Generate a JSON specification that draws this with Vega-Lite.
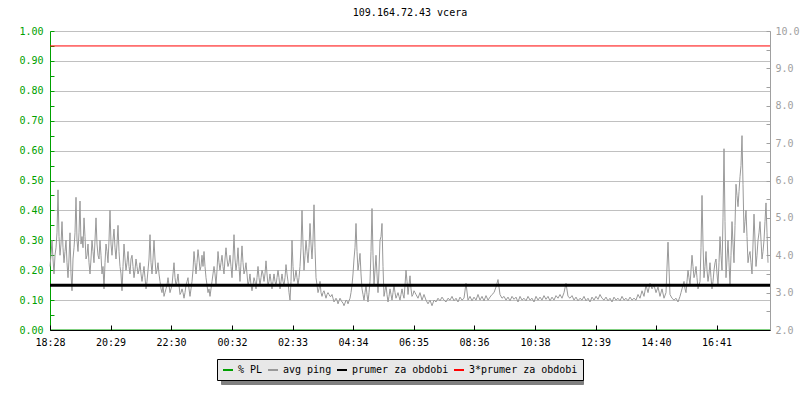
{
  "$schema": "https://vega.github.io/schema/vega-lite/v6.json",
  "width": 720,
  "height": 299,
  "autosize": "none",
  "padding": {"left": 50, "top": 31, "right": 30, "bottom": 70},
  "background": "white",
  "title": {"text": "109.164.72.43 vcera", "font": "DejaVu Sans Mono", "fontSize": 10, "fontWeight": "normal", "color": "#000000", "anchor": "middle", "offset": 8},
  "config": {"view": {"stroke": null}, "font": "DejaVu Sans Mono", "axis": {"labelOverlap": false, "labelFlush": false}},
  "layer": [
    {
      "data": {"values": [{"t": 0, "pl": 0}, {"t": 1440, "pl": 0}]},
      "mark": {"type": "line", "strokeWidth": 1},
      "encoding": {
        "x": {"field": "t", "type": "quantitative", "scale": {"domain": [0, 1440]},
          "axis": {"title": null, "orient": "bottom", "zindex": 1, "values": [0, 121, 242, 364, 485, 606, 727, 848, 970, 1091, 1212, 1333], "labelExpr": "timeFormat(datetime(2020, 0, 1, 18, 28 + datum.value), '%H:%M')", "grid": false, "domainColor": "#000000", "tickColor": "#000000", "tickSize": -5, "labelPadding": 12, "labelFont": "DejaVu Sans Mono", "labelFontSize": 10, "labelColor": "#000000", "labelFlush": false, "labelOverlap": false}},
        "y": {"field": "pl", "type": "quantitative", "scale": {"domain": [0, 1], "nice": false, "zero": false},
          "axis": {"title": null, "orient": "left", "zindex": 0, "values": [0, 0.05, 0.1, 0.15, 0.2, 0.25, 0.3, 0.35, 0.4, 0.45, 0.5, 0.55, 0.6, 0.65, 0.7, 0.75, 0.8, 0.85, 0.9, 0.95, 1], "labelExpr": "round(datum.value * 100) % 10 == 0 ? format(datum.value, '.2f') : ''", "grid": true, "gridColor": "#c0c0c0", "gridOpacity": {"condition": {"test": "round(datum.value * 100) % 10 != 0", "value": 0}, "value": 1}, "domainColor": "#00a000", "tickColor": "#00a000", "tickSize": -4, "labelPadding": 11, "labelFont": "DejaVu Sans Mono", "labelFontSize": 10, "labelColor": "#00a000", "labelFlush": false, "labelOverlap": false}},
        "color": {"datum": "% PL", "type": "nominal",
          "scale": {"domain": ["% PL", "avg ping", "prumer za obdobi", "3*prumer za obdobi"], "range": ["#00a000", "#999999", "#000000", "#ff0000"]},
          "legend": {"orient": "none", "legendX": 167, "legendY": 328, "zindex": 2, "direction": "horizontal", "title": null, "symbolType": "stroke", "symbolSize": 100, "symbolStrokeWidth": 2, "labelFont": "DejaVu Sans Mono", "labelFontSize": 10, "labelColor": "#000000", "fillColor": "#e8e8e8", "strokeColor": "#000000", "padding": 5, "columnPadding": 1, "labelOffset": 4, "labelLimit": 300}},
        "opacity": {"datum": "% PL", "type": "ordinal",
          "scale": {"domain": ["avg ping", "% PL", "prumer za obdobi", "3*prumer za obdobi"], "range": [1, 1, 1, 1]},
          "legend": {"orient": "none", "legendX": 171, "legendY": 332, "zindex": 1, "direction": "horizontal", "title": null, "symbolType": "stroke", "symbolSize": 100, "symbolStrokeWidth": 2, "symbolOpacity": 0, "symbolStrokeColor": "#808080", "labelFont": "DejaVu Sans Mono", "labelFontSize": 10, "labelColor": "#808080", "labelOpacity": 0, "labelExpr": "''", "fillColor": "#808080", "strokeColor": "#808080", "padding": 5, "columnPadding": 93, "labelOffset": 4, "labelLimit": 300}}
      }
    },
    {
      "layer": [
        {
          "data": {"values": [
{"t":0,"p":3.7},{"t":2,"p":4.0},{"t":4,"p":4.4},{"t":6,"p":3.9},{"t":8,"p":3.5},{"t":10,"p":4.0},{"t":12,"p":4.2},{"t":14,"p":4.6},{"t":16,"p":5.75},{"t":18,"p":4.5},
{"t":20,"p":4.0},{"t":22,"p":4.3},{"t":24,"p":4.9},{"t":26,"p":4.2},{"t":28,"p":3.8},{"t":30,"p":4.1},{"t":32,"p":4.4},{"t":34,"p":3.8},{"t":36,"p":3.4},{"t":38,"p":3.9},
{"t":40,"p":4.6},{"t":42,"p":3.5},{"t":44,"p":3.05},{"t":46,"p":3.9},{"t":48,"p":4.2},{"t":50,"p":4.6},{"t":52,"p":5.55},{"t":54,"p":4.4},{"t":56,"p":4.1},{"t":58,"p":4.6},
{"t":60,"p":5.45},{"t":62,"p":4.3},{"t":64,"p":4.5},{"t":66,"p":4.2},{"t":68,"p":5.0},{"t":70,"p":4.5},{"t":72,"p":3.9},{"t":74,"p":4.0},{"t":76,"p":4.3},{"t":78,"p":3.8},
{"t":80,"p":3.5},{"t":82,"p":3.9},{"t":84,"p":4.4},{"t":86,"p":4.1},{"t":88,"p":3.8},{"t":90,"p":4.4},{"t":92,"p":5.0},{"t":94,"p":4.3},{"t":96,"p":4.0},{"t":98,"p":3.9},
{"t":100,"p":4.4},{"t":102,"p":4.0},{"t":104,"p":3.5},{"t":106,"p":3.7},{"t":108,"p":3.1},{"t":110,"p":3.8},{"t":112,"p":4.3},{"t":114,"p":4.1},{"t":116,"p":3.8},{"t":118,"p":4.4},
{"t":120,"p":5.2},{"t":122,"p":4.3},{"t":124,"p":4.0},{"t":126,"p":4.4},{"t":128,"p":4.7},{"t":130,"p":4.2},{"t":132,"p":3.9},{"t":134,"p":4.3},{"t":136,"p":4.8},{"t":138,"p":4.1},
{"t":140,"p":3.7},{"t":142,"p":3.5},{"t":144,"p":3.05},{"t":146,"p":3.7},{"t":148,"p":4.3},{"t":150,"p":3.9},{"t":152,"p":3.6},{"t":154,"p":3.8},{"t":156,"p":4.1},{"t":158,"p":3.7},
{"t":160,"p":3.5},{"t":162,"p":3.9},{"t":164,"p":4.0},{"t":166,"p":3.7},{"t":168,"p":3.4},{"t":170,"p":3.6},{"t":172,"p":3.9},{"t":174,"p":3.7},{"t":176,"p":3.5},{"t":178,"p":3.6},
{"t":180,"p":3.8},{"t":182,"p":3.5},{"t":184,"p":3.3},{"t":186,"p":3.5},{"t":188,"p":3.7},{"t":190,"p":3.4},{"t":192,"p":3.1},{"t":194,"p":3.3},{"t":196,"p":3.6},{"t":198,"p":3.9},
{"t":200,"p":4.55},{"t":202,"p":3.8},{"t":204,"p":3.5},{"t":206,"p":3.9},{"t":208,"p":4.4},{"t":210,"p":3.9},{"t":212,"p":3.5},{"t":214,"p":3.6},{"t":216,"p":3.8},{"t":218,"p":3.5},
{"t":220,"p":3.3},{"t":222,"p":3.1},{"t":224,"p":3.0},{"t":226,"p":3.2},{"t":228,"p":2.9},{"t":230,"p":3.0},{"t":232,"p":3.1},{"t":234,"p":3.2},{"t":236,"p":3.4},{"t":238,"p":3.2},
{"t":240,"p":3.0},{"t":242,"p":3.1},{"t":244,"p":3.2},{"t":246,"p":3.5},{"t":248,"p":3.8},{"t":250,"p":3.4},{"t":252,"p":3.2},{"t":254,"p":3.3},{"t":256,"p":3.5},{"t":258,"p":3.2},
{"t":260,"p":2.95},{"t":262,"p":3.0},{"t":264,"p":3.1},{"t":266,"p":3.0},{"t":268,"p":2.85},{"t":270,"p":3.0},{"t":272,"p":3.2},{"t":274,"p":3.3},{"t":276,"p":3.4},{"t":278,"p":3.1},
{"t":280,"p":2.9},{"t":282,"p":3.1},{"t":284,"p":3.3},{"t":286,"p":3.6},{"t":288,"p":4.1},{"t":290,"p":3.8},{"t":292,"p":3.5},{"t":294,"p":3.8},{"t":296,"p":4.15},{"t":298,"p":3.9},
{"t":300,"p":3.6},{"t":302,"p":3.7},{"t":304,"p":4.0},{"t":306,"p":3.7},{"t":308,"p":4.1},{"t":310,"p":3.7},{"t":312,"p":3.4},{"t":314,"p":3.2},{"t":316,"p":3.0},{"t":318,"p":3.1},
{"t":320,"p":2.9},{"t":322,"p":3.1},{"t":324,"p":3.3},{"t":326,"p":3.5},{"t":328,"p":3.7},{"t":330,"p":3.5},{"t":332,"p":3.2},{"t":334,"p":3.6},{"t":336,"p":4.1},{"t":338,"p":3.8},
{"t":340,"p":3.6},{"t":342,"p":3.8},{"t":344,"p":4.0},{"t":346,"p":3.7},{"t":348,"p":3.5},{"t":350,"p":3.9},{"t":352,"p":4.2},{"t":354,"p":3.9},{"t":356,"p":3.7},{"t":358,"p":3.8},
{"t":360,"p":4.0},{"t":362,"p":3.7},{"t":364,"p":3.4},{"t":366,"p":3.9},{"t":368,"p":4.55},{"t":370,"p":3.9},{"t":372,"p":3.6},{"t":374,"p":3.8},{"t":376,"p":4.2},{"t":378,"p":3.7},
{"t":380,"p":3.3},{"t":382,"p":3.8},{"t":384,"p":4.25},{"t":386,"p":3.8},{"t":388,"p":3.5},{"t":390,"p":3.6},{"t":392,"p":3.8},{"t":394,"p":3.5},{"t":396,"p":3.2},{"t":398,"p":3.3},
{"t":400,"p":3.5},{"t":402,"p":3.2},{"t":404,"p":3.05},{"t":406,"p":3.2},{"t":408,"p":3.4},{"t":410,"p":3.3},{"t":412,"p":3.1},{"t":414,"p":3.4},{"t":416,"p":3.7},{"t":418,"p":3.4},
{"t":420,"p":3.2},{"t":422,"p":3.4},{"t":424,"p":3.6},{"t":426,"p":3.5},{"t":428,"p":3.3},{"t":430,"p":3.5},{"t":432,"p":3.85},{"t":434,"p":3.5},{"t":436,"p":3.2},{"t":438,"p":3.3},
{"t":440,"p":3.5},{"t":442,"p":3.3},{"t":444,"p":3.1},{"t":446,"p":3.3},{"t":448,"p":3.5},{"t":450,"p":3.3},{"t":452,"p":3.2},{"t":454,"p":3.4},{"t":456,"p":3.6},{"t":458,"p":3.4},
{"t":460,"p":3.1},{"t":462,"p":3.3},{"t":464,"p":3.5},{"t":466,"p":3.3},{"t":468,"p":3.2},{"t":470,"p":3.4},{"t":472,"p":3.75},{"t":474,"p":3.5},{"t":476,"p":3.3},{"t":478,"p":3.0},
{"t":480,"p":2.8},{"t":482,"p":3.3},{"t":484,"p":4.4},{"t":486,"p":3.7},{"t":488,"p":3.3},{"t":490,"p":3.4},{"t":492,"p":3.6},{"t":494,"p":3.4},{"t":496,"p":3.2},{"t":498,"p":3.4},
{"t":500,"p":3.7},{"t":502,"p":4.2},{"t":504,"p":5.2},{"t":506,"p":4.3},{"t":508,"p":3.6},{"t":510,"p":4.0},{"t":512,"p":4.4},{"t":514,"p":4.1},{"t":516,"p":3.8},{"t":518,"p":4.2},
{"t":520,"p":4.85},{"t":522,"p":4.3},{"t":524,"p":3.9},{"t":526,"p":4.4},{"t":528,"p":5.35},{"t":530,"p":4.2},{"t":532,"p":3.4},{"t":534,"p":3.2},{"t":536,"p":3.0},{"t":538,"p":3.1},
{"t":540,"p":3.3},{"t":542,"p":3.0},{"t":544,"p":2.9},{"t":546,"p":3.0},{"t":548,"p":3.05},{"t":550,"p":2.95},{"t":552,"p":2.85},{"t":554,"p":2.95},{"t":556,"p":3.0},{"t":558,"p":2.95},
{"t":560,"p":2.9},{"t":562,"p":2.9},{"t":564,"p":2.95},{"t":566,"p":2.85},{"t":568,"p":2.75},{"t":570,"p":2.8},{"t":572,"p":2.85},{"t":574,"p":2.8},{"t":576,"p":2.7},{"t":578,"p":2.78},
{"t":580,"p":2.85},{"t":582,"p":2.8},{"t":584,"p":2.75},{"t":586,"p":2.72},{"t":588,"p":2.65},{"t":590,"p":2.72},{"t":592,"p":2.8},{"t":594,"p":2.78},{"t":596,"p":2.7},{"t":598,"p":2.78},
{"t":600,"p":2.85},{"t":602,"p":3.0},{"t":604,"p":3.2},{"t":606,"p":3.5},{"t":608,"p":3.9},{"t":610,"p":4.2},{"t":612,"p":4.85},{"t":614,"p":4.1},{"t":616,"p":3.6},{"t":618,"p":3.8},
{"t":620,"p":4.05},{"t":622,"p":3.5},{"t":624,"p":3.1},{"t":626,"p":2.95},{"t":628,"p":2.8},{"t":630,"p":3.0},{"t":632,"p":3.2},{"t":634,"p":2.95},{"t":636,"p":2.75},{"t":638,"p":3.0},
{"t":640,"p":3.3},{"t":642,"p":4.1},{"t":644,"p":5.25},{"t":646,"p":4.0},{"t":648,"p":3.2},{"t":650,"p":3.6},{"t":652,"p":4.0},{"t":654,"p":3.5},{"t":656,"p":3.0},{"t":658,"p":3.6},
{"t":660,"p":4.4},{"t":662,"p":4.5},{"t":664,"p":4.85},{"t":666,"p":3.7},{"t":668,"p":2.9},{"t":670,"p":3.05},{"t":672,"p":3.2},{"t":674,"p":2.95},{"t":676,"p":2.75},{"t":678,"p":2.9},
{"t":680,"p":3.1},{"t":682,"p":2.95},{"t":684,"p":2.8},{"t":686,"p":3.0},{"t":688,"p":3.2},{"t":690,"p":3.0},{"t":692,"p":2.85},{"t":694,"p":2.92},{"t":696,"p":3.0},{"t":698,"p":2.9},
{"t":700,"p":2.8},{"t":702,"p":2.95},{"t":704,"p":3.1},{"t":706,"p":2.95},{"t":708,"p":2.85},{"t":710,"p":3.2},{"t":712,"p":3.6},{"t":714,"p":3.3},{"t":716,"p":2.95},{"t":718,"p":3.2},
{"t":720,"p":3.45},{"t":722,"p":3.1},{"t":724,"p":2.9},{"t":726,"p":2.95},{"t":728,"p":3.05},{"t":730,"p":3.0},
{"t":732,"p":2.95},{"t":736,"p":2.85},{"t":740,"p":3.0},{"t":744,"p":2.8},{"t":748,"p":2.95},{"t":752,"p":2.8},{"t":756,"p":2.7},
{"t":760,"p":2.8},{"t":764,"p":2.65},{"t":768,"p":2.8},{"t":772,"p":2.75},{"t":776,"p":2.85},{"t":780,"p":2.78},{"t":784,"p":2.88},{"t":788,"p":2.8},{"t":792,"p":2.75},{"t":796,"p":2.85},
{"t":800,"p":2.8},{"t":804,"p":2.9},{"t":808,"p":2.78},{"t":812,"p":2.85},{"t":816,"p":2.75},{"t":820,"p":2.88},{"t":824,"p":2.8},{"t":828,"p":2.85},{"t":832,"p":3.25},{"t":836,"p":2.8},
{"t":840,"p":2.9},{"t":844,"p":2.78},{"t":848,"p":2.88},{"t":852,"p":2.8},{"t":856,"p":2.95},{"t":860,"p":2.8},{"t":864,"p":2.9},{"t":868,"p":2.78},{"t":872,"p":2.92},{"t":876,"p":2.8},
{"t":880,"p":2.88},{"t":884,"p":2.95},{"t":888,"p":3.0},{"t":892,"p":3.15},{"t":896,"p":3.35},{"t":900,"p":2.95},{"t":904,"p":2.85},{"t":908,"p":2.9},{"t":912,"p":2.8},{"t":916,"p":2.88},
{"t":920,"p":2.78},{"t":924,"p":2.9},{"t":928,"p":2.82},{"t":932,"p":2.88},{"t":936,"p":2.75},{"t":940,"p":2.9},{"t":944,"p":2.8},{"t":948,"p":2.85},{"t":952,"p":2.78},{"t":956,"p":2.9},
{"t":960,"p":2.8},{"t":964,"p":2.85},{"t":968,"p":2.75},{"t":972,"p":2.9},{"t":976,"p":2.8},{"t":980,"p":2.88},{"t":984,"p":2.8},{"t":988,"p":2.92},{"t":992,"p":2.82},{"t":996,"p":2.9},
{"t":1000,"p":2.78},{"t":1004,"p":2.88},{"t":1008,"p":2.8},{"t":1012,"p":2.92},{"t":1016,"p":2.85},{"t":1020,"p":2.95},{"t":1024,"p":2.85},{"t":1028,"p":3.0},{"t":1032,"p":3.25},{"t":1036,"p":2.9},
{"t":1040,"p":2.85},{"t":1044,"p":2.92},{"t":1048,"p":2.8},{"t":1052,"p":2.88},{"t":1056,"p":2.78},{"t":1060,"p":2.85},{"t":1064,"p":2.8},{"t":1068,"p":2.9},{"t":1072,"p":2.78},{"t":1076,"p":2.85},
{"t":1080,"p":2.75},{"t":1084,"p":2.88},{"t":1088,"p":2.8},{"t":1092,"p":2.9},{"t":1096,"p":2.82},{"t":1100,"p":2.95},{"t":1104,"p":2.85},{"t":1108,"p":2.8},{"t":1112,"p":2.88},{"t":1116,"p":2.78},
{"t":1120,"p":2.85},{"t":1124,"p":2.75},{"t":1128,"p":2.88},{"t":1132,"p":2.8},{"t":1136,"p":2.85},{"t":1140,"p":2.78},{"t":1144,"p":2.9},{"t":1148,"p":2.8},{"t":1152,"p":2.85},{"t":1156,"p":2.78},
{"t":1160,"p":2.88},{"t":1164,"p":2.8},{"t":1168,"p":2.85},{"t":1172,"p":2.8},{"t":1176,"p":2.95},{"t":1180,"p":2.85},{"t":1184,"p":3.05},{"t":1188,"p":2.9},{"t":1192,"p":3.2},{"t":1196,"p":3.0},
{"t":1200,"p":3.25},{"t":1204,"p":3.1},{"t":1208,"p":3.2},{"t":1212,"p":3.0},{"t":1216,"p":3.15},{"t":1220,"p":2.9},{"t":1224,"p":3.1},{"t":1228,"p":2.85},{"t":1232,"p":3.0},{"t":1236,"p":4.35},
{"t":1240,"p":2.95},{"t":1244,"p":2.85},{"t":1248,"p":2.8},{"t":1252,"p":2.85},{"t":1256,"p":2.75},{"t":1260,"p":2.9},
{"t":1262,"p":3.0},{"t":1264,"p":3.1},{"t":1266,"p":3.2},{"t":1268,"p":3.3},{"t":1270,"p":3.1},{"t":1272,"p":3.0},{"t":1274,"p":3.3},{"t":1276,"p":3.6},{"t":1278,"p":3.4},
{"t":1280,"p":3.2},{"t":1282,"p":3.6},{"t":1284,"p":4.0},{"t":1286,"p":3.7},{"t":1288,"p":3.4},{"t":1290,"p":3.5},{"t":1292,"p":3.7},{"t":1294,"p":3.4},{"t":1296,"p":3.1},{"t":1298,"p":3.2},
{"t":1300,"p":3.3},{"t":1302,"p":4.2},{"t":1304,"p":5.6},{"t":1306,"p":4.3},{"t":1308,"p":3.4},{"t":1310,"p":3.7},{"t":1312,"p":4.1},{"t":1314,"p":3.6},{"t":1316,"p":3.3},{"t":1318,"p":3.5},
{"t":1320,"p":3.8},{"t":1322,"p":3.4},{"t":1324,"p":3.1},{"t":1326,"p":3.3},{"t":1328,"p":3.6},{"t":1330,"p":3.8},{"t":1332,"p":3.9},{"t":1334,"p":3.5},{"t":1336,"p":3.2},{"t":1338,"p":3.8},
{"t":1340,"p":4.5},{"t":1342,"p":4.0},{"t":1344,"p":3.6},{"t":1346,"p":5.0},{"t":1348,"p":6.85},{"t":1350,"p":4.9},{"t":1352,"p":3.4},{"t":1354,"p":3.9},{"t":1356,"p":4.4},{"t":1358,"p":3.8},
{"t":1360,"p":3.2},{"t":1362,"p":4.0},{"t":1364,"p":4.9},{"t":1366,"p":4.3},{"t":1368,"p":3.8},{"t":1370,"p":4.8},{"t":1372,"p":5.9},{"t":1374,"p":5.6},{"t":1376,"p":5.3},{"t":1378,"p":5.7},
{"t":1380,"p":6.1},{"t":1382,"p":6.4},{"t":1384,"p":7.2},{"t":1386,"p":5.9},{"t":1388,"p":4.6},{"t":1390,"p":4.9},{"t":1392,"p":5.2},{"t":1394,"p":4.5},{"t":1396,"p":3.8},{"t":1398,"p":4.0},
{"t":1400,"p":4.1},{"t":1402,"p":3.8},{"t":1404,"p":3.5},{"t":1406,"p":4.3},{"t":1408,"p":5.1},{"t":1410,"p":4.4},{"t":1412,"p":3.7},{"t":1414,"p":4.0},{"t":1416,"p":4.4},{"t":1418,"p":4.6},
{"t":1420,"p":4.9},{"t":1422,"p":4.4},{"t":1424,"p":3.9},{"t":1426,"p":4.1},{"t":1428,"p":4.4},{"t":1430,"p":4.9},{"t":1432,"p":5.4},{"t":1434,"p":4.6},{"t":1436,"p":3.8}
          ]},
          "mark": {"type": "line", "strokeWidth": 1},
          "encoding": {
            "x": {"field": "t", "type": "quantitative", "scale": {"domain": [0, 1440]},
              "axis": {"title": null, "orient": "bottom", "zindex": 1, "values": [0, 121, 242, 364, 485, 606, 727, 848, 970, 1091, 1212, 1333], "labelExpr": "timeFormat(datetime(2020, 0, 1, 18, 28 + datum.value), '%H:%M')", "grid": false, "domainColor": "#000000", "tickColor": "#000000", "tickSize": -5, "labelPadding": 12, "labelFont": "DejaVu Sans Mono", "labelFontSize": 10, "labelColor": "#000000", "labelFlush": false, "labelOverlap": false}},
            "y": {"field": "p", "type": "quantitative", "scale": {"domain": [2, 10], "nice": false, "zero": false},
              "axis": {"title": null, "orient": "right", "values": [2, 2.5, 3, 3.5, 4, 4.5, 5, 5.5, 6, 6.5, 7, 7.5, 8, 8.5, 9, 9.5, 10], "labelExpr": "round(datum.value * 10) % 10 == 0 ? format(datum.value, '.1f') : ''", "grid": false, "domainColor": "#a0a0a0", "tickColor": "#a0a0a0", "tickSize": -4, "labelPadding": 9, "labelFont": "DejaVu Sans Mono", "labelFontSize": 10, "labelColor": "#a0a0a0", "labelFlush": false, "labelOverlap": false}},
            "color": {"datum": "avg ping", "type": "nominal"}
          }
        },
        {
          "data": {"values": [{"avg": 3.2}]},
          "mark": {"type": "rule", "strokeWidth": 3},
          "encoding": {
            "y": {"field": "avg", "type": "quantitative",
              "axis": {"title": null, "orient": "right", "values": [2, 2.5, 3, 3.5, 4, 4.5, 5, 5.5, 6, 6.5, 7, 7.5, 8, 8.5, 9, 9.5, 10], "labelExpr": "round(datum.value * 10) % 10 == 0 ? format(datum.value, '.1f') : ''", "grid": false, "domainColor": "#a0a0a0", "tickColor": "#a0a0a0", "tickSize": -4, "labelPadding": 9, "labelFont": "DejaVu Sans Mono", "labelFontSize": 10, "labelColor": "#a0a0a0", "labelFlush": false, "labelOverlap": false}},
            "color": {"datum": "prumer za obdobi", "type": "nominal"}
          }
        },
        {
          "data": {"values": [{"avg3": 9.6}]},
          "mark": {"type": "rule", "strokeWidth": 1},
          "encoding": {
            "y": {"field": "avg3", "type": "quantitative",
              "axis": {"title": null, "orient": "right", "values": [2, 2.5, 3, 3.5, 4, 4.5, 5, 5.5, 6, 6.5, 7, 7.5, 8, 8.5, 9, 9.5, 10], "labelExpr": "round(datum.value * 10) % 10 == 0 ? format(datum.value, '.1f') : ''", "grid": false, "domainColor": "#a0a0a0", "tickColor": "#a0a0a0", "tickSize": -4, "labelPadding": 9, "labelFont": "DejaVu Sans Mono", "labelFontSize": 10, "labelColor": "#a0a0a0", "labelFlush": false, "labelOverlap": false}},
            "color": {"datum": "3*prumer za obdobi", "type": "nominal"}
          }
        }
      ]
    }
  ],
  "resolve": {"scale": {"y": "independent"}}
}
